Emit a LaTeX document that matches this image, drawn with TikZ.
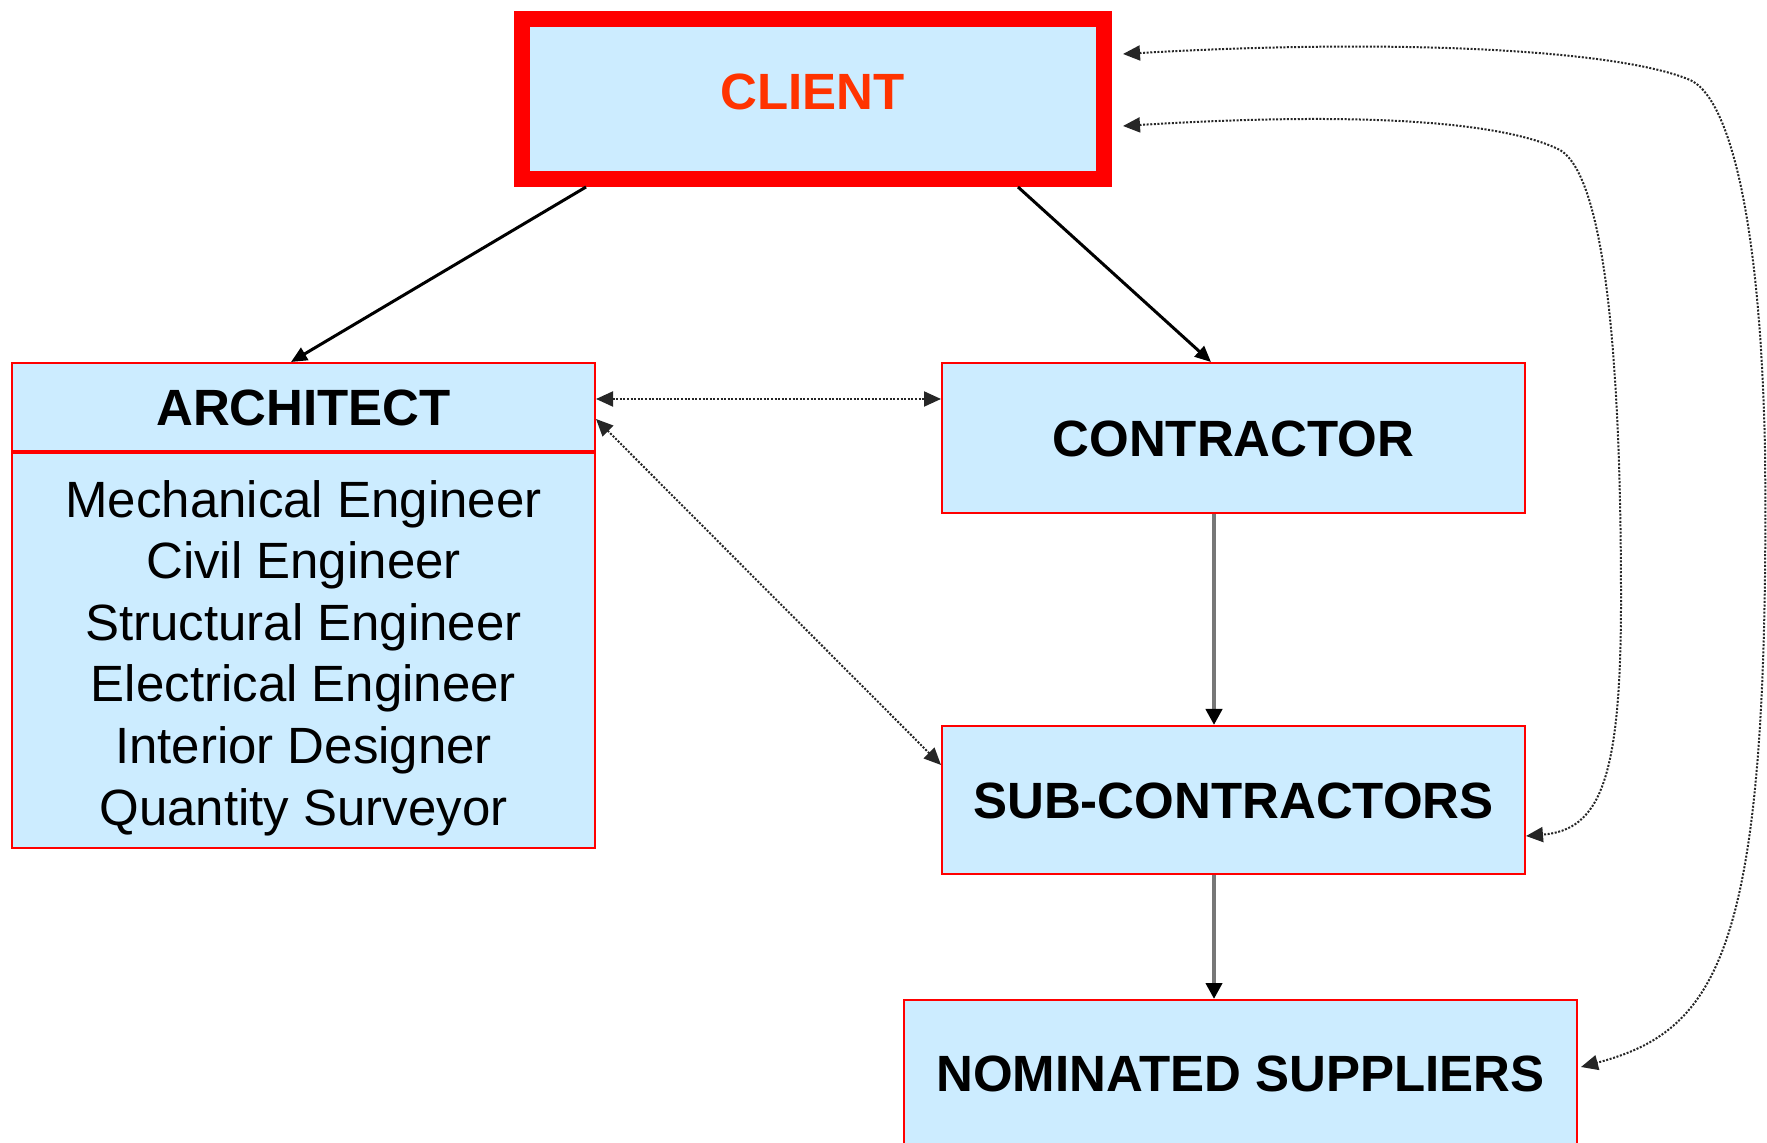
\documentclass[tikz,border=0pt]{standalone}
\usepackage{fontspec}
\setmainfont{Liberation Sans}
\usetikzlibrary{arrows.meta}
\definecolor{boxfill}{HTML}{CCECFF}
\definecolor{boxred}{HTML}{FF0000}
\definecolor{clienttxt}{HTML}{FF3300}
\definecolor{arrowgray}{HTML}{777777}
\begin{document}
\begin{tikzpicture}[x=0.5pt,y=-0.5pt,
  every node/.style={inner sep=0pt},
  box/.style={draw=boxred, fill=boxfill, line width=1pt, minimum width=291.5pt,
    text height=18.3pt, text depth=0pt,
    font=\fontsize{25.5pt}{30.8pt}\selectfont\bfseries},
  clientbox/.style={box, line width=8pt, minimum width=291.25pt, minimum height=80pt,
    text=clienttxt, text depth=7.3pt},
  bodybox/.style={draw=boxred, fill=boxfill, line width=1pt, minimum width=291.5pt,
    minimum height=197.5pt, align=center,
    font=\fontsize{25.5pt}{30.8pt}\selectfont},
  mainarrow/.style={line width=1.5pt, -{Triangle[length=8pt,width=7pt]}},
  downarrow/.style={draw=arrowgray, line width=2pt, -{Triangle[length=8pt,width=8pt,color=black]}},
  linkarrow/.style={line width=1pt, black!85, dash pattern=on 1pt off 0.8pt,
    {Triangle[length=8.5pt,width=7.5pt]}-{Triangle[length=8.5pt,width=7.5pt]}}
]
\useasboundingbox (0,0) rectangle (1767,1143);

\node[clientbox] (client) at (812.75,99) {CLIENT};
\node[box, minimum height=44pt] (archhead) at (303.5,407) {ARCHITECT};
\node[bodybox] (archbody) at (303.5,650.5) {\rule{0pt}{25.8pt}Mechanical Engineer\\Civil Engineer\\Structural Engineer\\Electrical Engineer\\Interior Designer\\Quantity Surveyor};
\node[box, minimum height=75pt] (con) at (1233.5,438) {CONTRACTOR};
\node[box, minimum height=74pt] (sub) at (1233.5,800) {SUB-CONTRACTORS};
\node[box, minimum width=336.5pt, minimum height=73pt] (nom) at (1240.5,1073) {NOMINATED SUPPLIERS};

\draw[mainarrow] ([xshift=36.25pt]client.south west) -- ([xshift=-6.25pt]archhead.north);
\draw[mainarrow] ([xshift=-47pt]client.south east) -- ([xshift=-11.25pt]con.north);
\draw[downarrow] ([xshift=-9.75pt]con.south) -- ([xshift=-9.75pt]con.south |- sub.north);
\draw[downarrow] ([xshift=-9.75pt]sub.south) -- ([xshift=-9.75pt]sub.south |- nom.north);

\draw[linkarrow] ([yshift=4pt]archhead.east) -- ([yshift=4pt]archhead.east -| con.west);
\draw[linkarrow] ([yshift=-6pt]archhead.east) -- ([yshift=17.5pt]sub.west);

\draw[linkarrow] ([xshift=5.5pt,yshift=22.5pt]client.east)
  .. controls (1400,38) and (1620,50) .. (1690,80)
  .. controls (1725,95) and (1760,200) .. (1765,450)
  .. controls (1770,950) and (1720,1030) .. ([xshift=1.5pt,yshift=3pt]nom.east);
\draw[linkarrow] ([xshift=5.5pt,yshift=-13.5pt]client.east)
  .. controls (1350,112) and (1500,120) .. (1560,150)
  .. controls (1610,180) and (1621,400) .. (1621,600)
  .. controls (1621,780) and (1600,830) .. ([yshift=-18pt]sub.east);
\end{tikzpicture}
\end{document}
